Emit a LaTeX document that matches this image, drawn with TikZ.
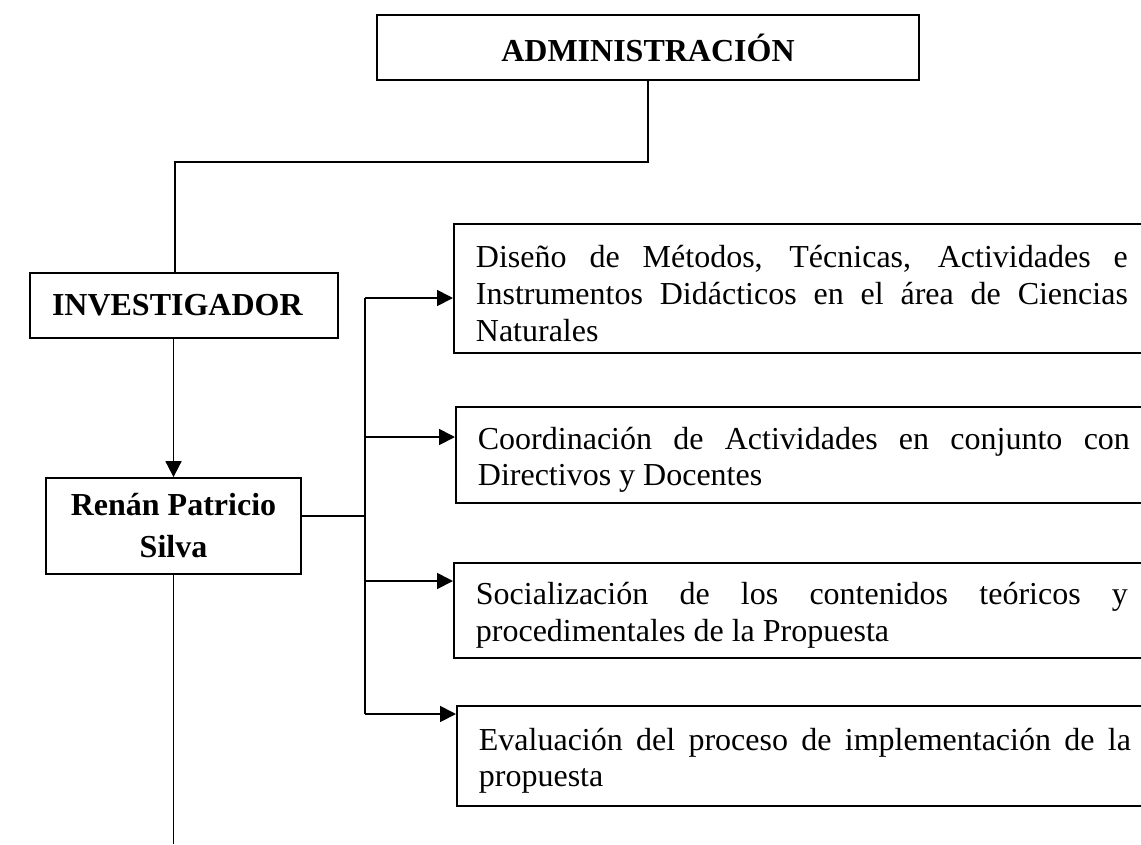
\documentclass[tikz,border=0pt]{standalone}
\usepackage{fontspec}
\setmainfont{Liberation Serif}
\usetikzlibrary{arrows.meta}
\begin{document}
\begin{tikzpicture}[x=1pt,y=-1pt,
  line width=1.8pt,
  boldbox/.style={draw, font=\fontsize{32}{42}\selectfont\bfseries, align=center, inner sep=0pt},
  itembox/.style={draw, anchor=north west, font=\fontsize{32}{36.8}\selectfont,
    text width=652pt, align=justify, inner xsep=22pt, inner ysep=0pt,
    execute at begin node={\rule{0pt}{32pt}}},
  arr/.style={-{Triangle[length=16pt,width=16pt]}}]
\useasboundingbox (0,0) rectangle (1141,844);
\clip (0,0) rectangle (1141,844);

\node[boldbox, minimum width=542pt, minimum height=65pt] (adm) at (648,47.5) {ADMINISTRACIÓN};
\node[boldbox, text width=264pt, align=left, inner xsep=22pt, minimum height=65pt] (inv) at (184,305.5) {INVESTIGADOR};
\node[boldbox, minimum width=255pt, minimum height=96pt] (ren) at (173.5,526) {Renán Patricio\\Silva};

\node[itembox, minimum height=129pt] (b1) at (453,223) {Diseño de Métodos, Técnicas, Actividades e\linebreak Instrumentos Didácticos en el área de Ciencias\linebreak Naturales};
\node[itembox, minimum height=96pt] (b2) at (455,406) {Coordinación de Actividades en conjunto con\linebreak Directivos y Docentes};
\node[itembox, minimum height=95pt] (b3) at (453,562) {Socialización de los contenidos teóricos y\linebreak procedimentales de la Propuesta};
\node[itembox, minimum height=100pt] (b4) at (456,705) {Evaluación del proceso de implementación de la\linebreak propuesta};

\coordinate (j1) at (175,162);
\draw (adm.south) |- (j1) -- (j1 |- inv.north);
\draw[arr] (inv.south -| ren.north) -- (ren.north);
\coordinate (end) at (173.5,844);
\draw (ren.south) -- (end);

\coordinate (bus) at (365,516);
\draw (ren.east |- bus) -- (bus);
\coordinate (t1) at (365,298);
\coordinate (t2) at (365,437);
\coordinate (t3) at (365,581);
\coordinate (t4) at (365,714);
\draw (t1) -- (t4);
\draw[arr] (t1) -- (t1 -| b1.west);
\draw[arr] (t2) -- (t2 -| b2.west);
\draw[arr] (t3) -- (t3 -| b3.west);
\draw[arr] (t4) -- (t4 -| b4.west);
\end{tikzpicture}
\end{document}
